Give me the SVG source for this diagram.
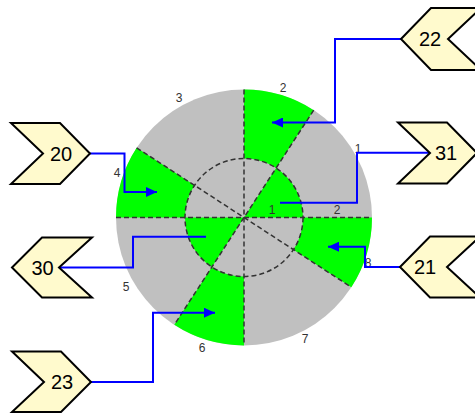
<svg xmlns="http://www.w3.org/2000/svg" width="475" height="418" viewBox="0 0 475 418">
<style>
.gray{fill:#C0C0C0}
.green{fill:#00FF00}
.dash{stroke:#333333;stroke-width:1.5;stroke-dasharray:5,3;fill:none}
.lbl{font-family:"Liberation Sans",Arial,sans-serif;font-size:12px;fill:#333333;text-anchor:middle}
.node polygon{fill:#FFFACD;stroke:#000000;stroke-width:2;stroke-linejoin:miter}
.node text{font-family:"Liberation Sans",Arial,sans-serif;font-size:20px;fill:#000000;text-anchor:middle}
.conn{fill:none;stroke:#0000FF;stroke-width:2}
</style>
<defs>
<marker id="arr" markerUnits="userSpaceOnUse" markerWidth="12" markerHeight="10" refX="11" refY="5" orient="auto">
<path d="M0,0 L11,5 L0,10 Z" fill="#0000FF"/>
</marker>
</defs>
<rect width="475" height="418" fill="#FFFFFF"/>
<g id="wheel">
<circle class="gray" cx="244" cy="217.5" r="128"/>
<path class="green" d="M313.71,110.15 A128,128 0 0 0 244,89.5 L244,158.5 A59,59 0 0 1 276.13,168.02 Z"/>
<path class="green" d="M136.65,147.79 A128,128 0 0 0 116,217.5 L185,217.5 A59,59 0 0 1 194.52,185.37 Z"/>
<path class="green" d="M174.29,324.85 A128,128 0 0 0 244,345.5 L244,276.5 A59,59 0 0 1 211.87,266.98 Z"/>
<path class="green" d="M351.35,287.21 A128,128 0 0 0 372,217.5 L303,217.5 A59,59 0 0 1 293.48,249.63 Z"/>
<path class="green" d="M244,217.5 L303,217.5 A59,59 0 0 0 276.13,168.02 Z"/>
<path class="green" d="M244,217.5 L185,217.5 A59,59 0 0 0 211.87,266.98 Z"/>
<circle class="dash" cx="244" cy="217.5" r="59"/>
<line class="dash" x1="116" y1="217.5" x2="372" y2="217.5"/>
<line class="dash" x1="244" y1="89.5" x2="244" y2="345.5"/>
<line class="dash" x1="136.65" y1="147.79" x2="351.35" y2="287.21"/>
<line class="dash" x1="313.71" y1="110.15" x2="174.29" y2="324.85"/>
</g>
<g id="sector-labels">
<text class="lbl" x="179" y="102">3</text>
<text class="lbl" x="283" y="92">2</text>
<text class="lbl" x="358" y="153">1</text>
<text class="lbl" x="272" y="214">1</text>
<text class="lbl" x="337" y="214">2</text>
<text class="lbl" x="368" y="267">8</text>
<text class="lbl" x="305" y="343">7</text>
<text class="lbl" x="202" y="352">6</text>
<text class="lbl" x="126" y="291">5</text>
<text class="lbl" x="117" y="177">4</text>
</g>
<g id="connectors">
<polyline class="conn" points="401,39 335,39 335,122.5 272,122.5" marker-end="url(#arr)"/>
<polyline class="conn" points="430,152.7 357,152.7 357,202.7 280,202.7"/>
<polyline class="conn" points="90,153.5 124.5,153.5 124.5,192 157,192" marker-end="url(#arr)"/>
<polyline class="conn" points="400,267 365,267 365,246.7 328,246.7" marker-end="url(#arr)"/>
<polyline class="conn" points="91,382 153,382 153,312.7 215,312.7" marker-end="url(#arr)"/>
<polyline class="conn" points="58,267.5 133,267.5 133,236.7 206,236.7"/>
</g>
<g id="node-22" class="node">
<polygon points="401,39 431,8 481,8 448,39 481,70 431,70"/>
<text x="430" y="46">22</text>
</g>
<g id="node-20" class="node">
<polygon points="11,123 60,123 90,153.5 60,184 11,184 43,153.5"/>
<text x="61" y="160.5">20</text>
</g>
<g id="node-31" class="node">
<polygon points="398,122.5 447,122.5 477,153 447,183.5 398,183.5 430,153"/>
<text x="446" y="160">31</text>
</g>
<g id="node-30" class="node">
<polygon points="12,267.5 42,237.5 92,237.5 59,267.5 92,297.5 42,297.5"/>
<text x="42.5" y="274.5">30</text>
</g>
<g id="node-21" class="node">
<polygon points="400,267 430,236.5 480,236.5 447,267 480,297.5 430,297.5"/>
<text x="425" y="274">21</text>
</g>
<g id="node-23" class="node">
<polygon points="12,351.5 61,351.5 91,382 61,412 12,412 44,382"/>
<text x="62" y="389">23</text>
</g>
</svg>
